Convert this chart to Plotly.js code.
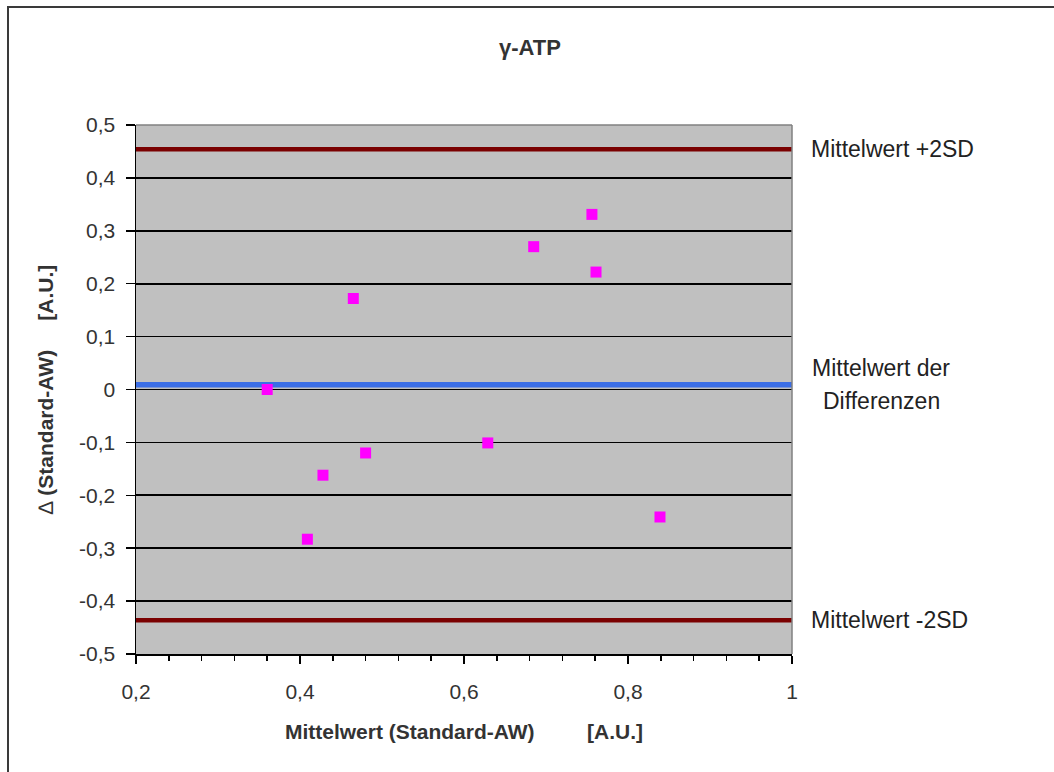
<!DOCTYPE html>
<html>
<head>
<meta charset="utf-8">
<script src="https://cdn.plot.ly/plotly-3.0.1.min.js"></script>
<style>
  html, body { margin: 0; padding: 0; background: #ffffff; }
  #chart { width: 1054px; height: 772px; position: absolute; left: 0; top: 0; }
  #frame { position: absolute; left: 7px; top: 6px; width: 1200px; height: 900px;
           border-left: 2px solid #3a3a3a; border-top: 2px solid #3a3a3a; pointer-events: none; z-index: 5; }
</style>
</head>
<body>
<div id="chart"></div>
<div id="frame"></div>
<script>
// Data
const meanValues = [0.360, 0.465, 0.409, 0.428, 0.480, 0.629, 0.685, 0.756, 0.761, 0.839];
const diffValues = [0.000, 0.172, -0.283, -0.162, -0.120, -0.101, 0.270, 0.331, 0.222, -0.241];

const lineX = [0.2, 1.0];
const upperLimit = 0.454;   // Mittelwert +2SD
const meanDiff = 0.009;     // Mittelwert der Differenzen
const lowerLimit = -0.436;  // Mittelwert -2SD

const yTickVals = [-0.5, -0.4, -0.3, -0.2, -0.1, 0, 0.1, 0.2, 0.3, 0.4, 0.5];
const yTickText = ["-0,5", "-0,4", "-0,3", "-0,2", "-0,1", "0", "0,1", "0,2", "0,3", "0,4", "0,5"];
const xTickVals = [0.2, 0.4, 0.6, 0.8, 1.0];
const xTickText = ["0,2", "0,4", "0,6", "0,8", "1"];

const labelUpper = "Mittelwert +2SD";
const labelMean1 = "Mittelwert der";
const labelMean2 = "Differenzen";
const labelLower = "Mittelwert -2SD";

const FONT = "Liberation Sans, Arial, sans-serif";
const NB = "\u00a0";

const traces = [
  { x: lineX, y: [upperLimit, upperLimit], mode: "lines", line: { color: "#7a0000", width: 4.5 }, hoverinfo: "skip", showlegend: false, cliponaxis: false },
  { x: lineX, y: [lowerLimit, lowerLimit], mode: "lines", line: { color: "#7a0000", width: 4.5 }, hoverinfo: "skip", showlegend: false, cliponaxis: false },
  { x: lineX, y: [meanDiff, meanDiff], mode: "lines", line: { color: "#3b6ee6", width: 5.5 }, hoverinfo: "skip", showlegend: false, cliponaxis: false },
  { x: meanValues, y: diffValues, mode: "markers", type: "scatter",
    marker: { symbol: "square", size: 11, color: "#ff00ff", line: { width: 0 } }, showlegend: false }
];

const pxToY = p => 0.5 - (p - 125) / 529;

const layout = {
  width: 1054, height: 772,
  margin: { l: 136, r: 262, t: 125, b: 118, pad: 0 },
  paper_bgcolor: "rgba(0,0,0,0)",
  plot_bgcolor: "#c0c0c0",
  font: { family: FONT, size: 21, color: "#333333" },
  showlegend: false,
  title: { text: "<b>γ-ATP</b>", x: 530 / 1054, xref: "container", y: 1 - 47 / 772, yref: "container", yanchor: "middle",
           xanchor: "center", font: { family: FONT, size: 22, color: "#333333" } },
  xaxis: {
    range: [0.2, 1.0], tickvals: xTickVals, ticktext: xTickText,
    ticks: "outside", ticklen: 8, tickwidth: 1.5, tickcolor: "#000000",
    minor: { dtick: 0.04, tick0: 0.2, ticks: "outside", ticklen: 5, tickwidth: 1.5, tickcolor: "#000000", showgrid: false },
    showgrid: false, zeroline: false, showline: true, linecolor: "#000000", linewidth: 1.5,
    tickfont: { family: FONT, size: 21, color: "#333333" }, ticklabelstandoff: 10,
    title: { text: "<b>Mittelwert (Standard-AW)" + NB.repeat(8) + " [A.U.]</b>", standoff: 22,
             font: { family: FONT, size: 21, color: "#333333" } },
    automargin: false, fixedrange: true
  },
  yaxis: {
    range: [-0.5, 0.5], tickvals: yTickVals, ticktext: yTickText,
    ticks: "outside", ticklen: 9, tickwidth: 1.5, tickcolor: "#000000",
    showgrid: true, gridcolor: "#000000", gridwidth: 1.6,
    zeroline: true, zerolinecolor: "#000000", zerolinewidth: 1.6,
    showline: true, linecolor: "#000000", linewidth: 1.5,
    tickfont: { family: FONT, size: 21, color: "#333333" }, ticklabelstandoff: 6,
    title: { text: "<span style='font-weight:normal'>∆</span><b> (Standard-AW)" + NB.repeat(4) + " [A.U.]</b>", standoff: 20,
             font: { family: FONT, size: 21, color: "#333333" } },
    automargin: false, fixedrange: true
  },
  shapes: [
    { type: "line", xref: "paper", yref: "paper", x0: 0, x1: 1, y0: 1, y1: 1, line: { color: "#808080", width: 1.5 } },
    { type: "line", xref: "paper", yref: "paper", x0: 1, x1: 1, y0: 0, y1: 1, line: { color: "#808080", width: 1.5 } }
  ],
  annotations: [
    { text: labelUpper, xref: "paper", x: (809 - 136) / 656, xanchor: "left", yref: "y", y: upperLimit, yanchor: "middle",
      showarrow: false, font: { family: FONT, size: 23, color: "#222222" } },
    { text: labelMean1, xref: "paper", x: (881 - 136) / 656, xanchor: "center", yref: "y", y: pxToY(368), yanchor: "middle",
      showarrow: false, font: { family: FONT, size: 23, color: "#222222" } },
    { text: labelMean2, xref: "paper", x: (881 - 136) / 656, xanchor: "center", yref: "y", y: pxToY(401), yanchor: "middle",
      showarrow: false, font: { family: FONT, size: 23, color: "#222222" } },
    { text: labelLower, xref: "paper", x: (809 - 136) / 656, xanchor: "left", yref: "y", y: lowerLimit, yanchor: "middle",
      showarrow: false, font: { family: FONT, size: 23, color: "#222222" } }
  ]
};

Plotly.newPlot("chart", traces, layout, { displayModeBar: false, staticPlot: true });
</script>
</body>
</html>
